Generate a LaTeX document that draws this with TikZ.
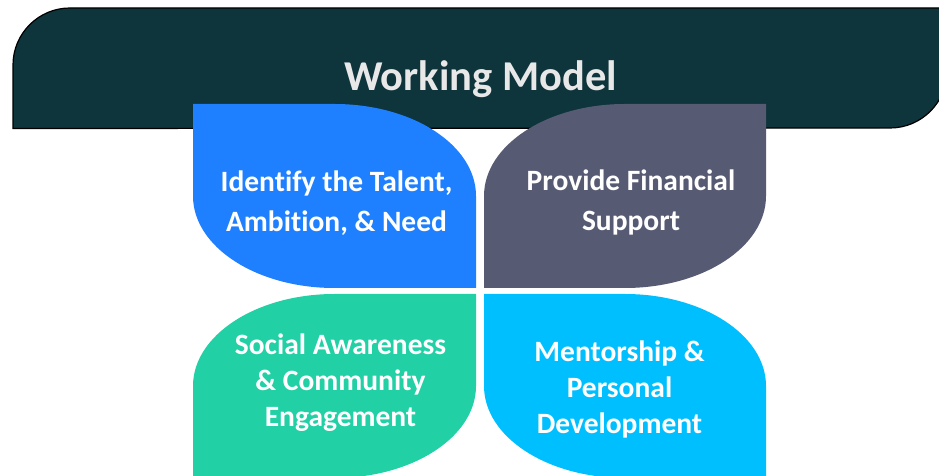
\documentclass[tikz,border=0pt]{standalone}
\usepackage{fontspec}
\setmainfont{Carlito}[Ligatures=NoCommon]
\definecolor{bannerfill}{HTML}{0E343C}
\definecolor{titlegray}{HTML}{E8E8E8}
\definecolor{petalblue}{HTML}{1F80FF}
\definecolor{petalgray}{HTML}{575A73}
\definecolor{petalgreen}{HTML}{21D0A5}
\definecolor{petalcyan}{HTML}{00BFFF}
\tikzset{
  petaltext/.style={text=white, align=center, font=\bfseries\fontsize{29.5}{40}\selectfont, inner sep=0pt},
  petaltextb/.style={petaltext, font=\bfseries\fontsize{29.5}{36}\selectfont},
}
\begin{document}
\begin{tikzpicture}[x=1pt,y=1pt]
\useasboundingbox (0,0) rectangle (939,476);
% banner
\draw[fill=bannerfill, draw=black, line width=1.2pt]
  (13,347.5) -- (13,411) arc[start angle=180, end angle=90, radius=57pt]
  -- (960,468) -- (947,468) -- (947,405) arc[start angle=0, end angle=-90, radius=57pt]
  -- cycle;
\node[text=titlegray, font=\bfseries\fontsize{42.5}{50}\selectfont, anchor=base] (title) at (480.5,385) {Working Model};
% petals
\fill[petalblue] (193,372) -- (334.5,372)
  arc[start angle=90, end angle=0, x radius=141.5pt, y radius=92pt]
  -- (476,188) -- (334.5,188)
  arc[start angle=270, end angle=180, x radius=141.5pt, y radius=92pt] -- cycle;
\fill[petalgray] (766,372) -- (766,280)
  arc[start angle=0, end angle=-90, x radius=141pt, y radius=92pt]
  -- (484,188) -- (484,280)
  arc[start angle=180, end angle=90, x radius=141pt, y radius=92pt] -- cycle;
\fill[petalgreen] (193,-2) -- (193,90)
  arc[start angle=180, end angle=90, x radius=141.5pt, y radius=92pt]
  -- (476,182) -- (476,90)
  arc[start angle=0, end angle=-90, x radius=141.5pt, y radius=92pt] -- cycle;
\fill[petalcyan] (484,182) -- (625,182)
  arc[start angle=90, end angle=0, x radius=141pt, y radius=92pt]
  -- (766,-2) -- (625,-2)
  arc[start angle=270, end angle=180, x radius=141pt, y radius=92pt] -- cycle;
% texts
\node[petaltext] (t1) at (336.5,273) {Identify the Talent,\\Ambition, \& Need};
\node[petaltext] (t2) at (631,274) {Provide Financial\\Support};
\node[petaltextb] (t3) at (340.5,93) {Social Awareness\\\& Community\\Engagement};
\node[petaltextb] (t4) at (619.5,87) {Mentorship \&\\Personal\\Development};
\end{tikzpicture}
\end{document}
